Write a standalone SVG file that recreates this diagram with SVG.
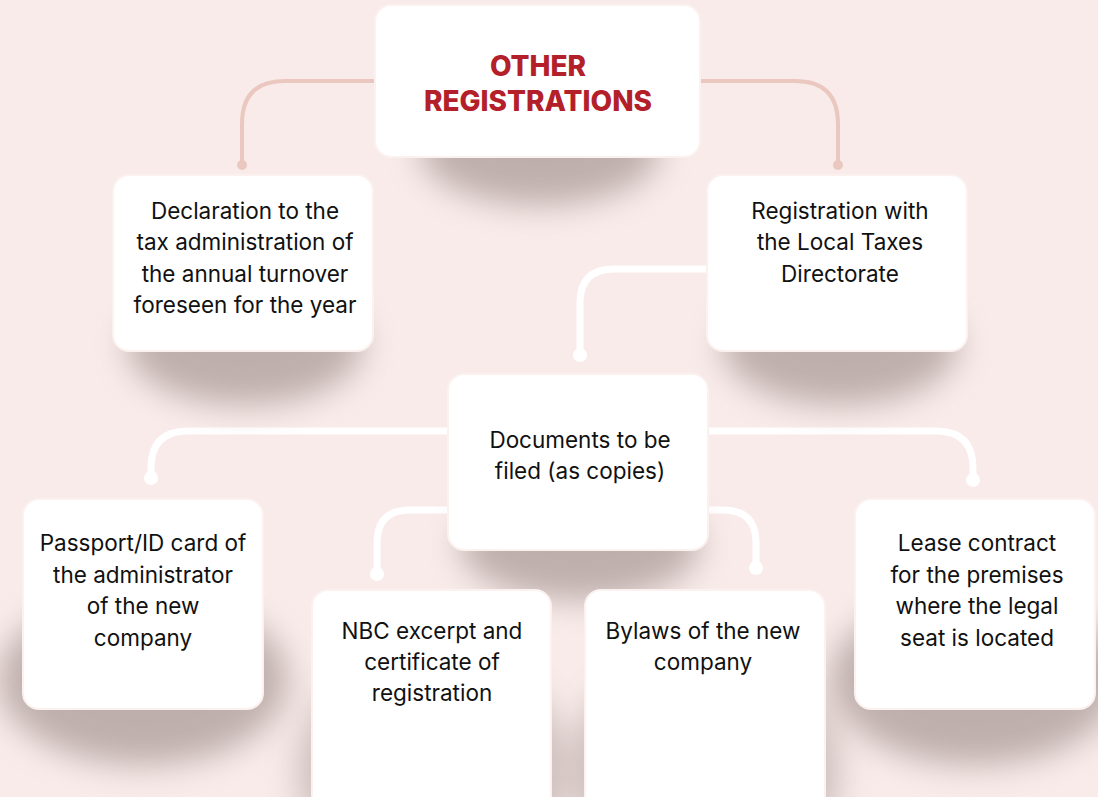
<svg xmlns="http://www.w3.org/2000/svg" width="1098" height="797" viewBox="0 0 1098 797">
<defs>
<filter id="blur" x="-50%" y="-50%" width="200%" height="200%"><feGaussianBlur stdDeviation="16"/></filter>
<style>
.box{fill:#ffffff;stroke:#fbf1ef;stroke-width:2}
.sh{fill:#8f7f7c;opacity:0.55;filter:url(#blur)}
.sh2{fill:#8f7f7c;opacity:0.4;filter:url(#blur)}
.t{font-family:Inter,"Liberation Sans",sans-serif;font-size:22.5px;fill:#111111;text-anchor:middle}
.title{font-family:Inter,"Liberation Sans",sans-serif;font-size:28px;font-weight:800;fill:#b3202a;text-anchor:middle}
.cp{fill:none;stroke:#ebc8bf;stroke-width:4;stroke-linecap:round}
.cw{fill:none;stroke:#ffffff;stroke-width:7;stroke-linecap:round}
.dp{fill:#ebc8bf}
.dw{fill:#ffffff}
</style>
</defs>
<rect width="1098" height="797" fill="#f8ebe9"/>
<g id="connectors">
<path class="cp" d="M380 81 H285 Q242 81 242 124 V164"/>
<circle class="dp" cx="242" cy="165" r="5"/>
<path class="cp" d="M695 81 H795 Q838 81 838 124 V164"/>
<circle class="dp" cx="838" cy="165" r="5"/>
<path class="cw" d="M710 269 H614 Q580 269 580 303 V352"/>
<circle class="dw" cx="580" cy="355" r="7"/>
<path class="cw" d="M450 431 H188 Q151 431 151 468 V476"/>
<circle class="dw" cx="151" cy="478" r="7"/>
<path class="cw" d="M706 431 H936 Q973 431 973 468 V478"/>
<circle class="dw" cx="973" cy="480" r="7"/>
<path class="cw" d="M450 510 H410 Q377 510 377 543 V572"/>
<circle class="dw" cx="377" cy="574" r="7"/>
<path class="cw" d="M706 510 H723 Q756 510 756 543 V566"/>
<circle class="dw" cx="756" cy="568" r="7"/>
</g>
<g id="shadows">
<ellipse class="sh" cx="540" cy="150" rx="120" ry="55"/>
<ellipse class="sh" cx="245" cy="345" rx="118" ry="60"/>
<ellipse class="sh" cx="840" cy="345" rx="118" ry="60"/>
<ellipse class="sh" cx="580" cy="545" rx="120" ry="55"/>
<ellipse class="sh" cx="143" cy="680" rx="145" ry="85"/>
<ellipse class="sh" cx="975" cy="680" rx="145" ry="85"/>
<ellipse class="sh2" cx="432" cy="770" rx="135" ry="120"/>
<ellipse class="sh2" cx="705" cy="770" rx="135" ry="120"/>
</g>
<g id="n-title">
<rect class="box" x="375" y="5" width="325" height="152" rx="16"/>
<text class="title" x="538" y="76">OTHER</text>
<text class="title" x="538" y="111">REGISTRATIONS</text>
</g>
<g id="n-declaration">
<rect class="box" x="113" y="175" width="260" height="176" rx="16"/>
<text class="t" x="245" y="219">Declaration to the</text>
<text class="t" x="245" y="250">tax administration of</text>
<text class="t" x="245" y="282">the annual turnover</text>
<text class="t" x="245" y="313">foreseen for the year</text>
</g>
<g id="n-localtaxes">
<rect class="box" x="707" y="175" width="260" height="176" rx="16"/>
<text class="t" x="840" y="219">Registration with</text>
<text class="t" x="840" y="250">the Local Taxes</text>
<text class="t" x="840" y="282">Directorate</text>
</g>
<g id="n-documents">
<rect class="box" x="448" y="374" width="260" height="176" rx="16"/>
<text class="t" x="580" y="448">Documents to be</text>
<text class="t" x="580" y="479">filed (as copies)</text>
</g>
<g id="n-passport">
<rect class="box" x="23" y="499" width="240" height="210" rx="16"/>
<text class="t" x="143" y="551">Passport/ID card of</text>
<text class="t" x="143" y="583">the administrator</text>
<text class="t" x="143" y="614">of the new</text>
<text class="t" x="143" y="646">company</text>
</g>
<g id="n-nbc">
<rect class="box" x="312" y="590" width="239" height="230" rx="16"/>
<text class="t" x="432" y="639">NBC excerpt and</text>
<text class="t" x="432" y="670">certificate of</text>
<text class="t" x="432" y="701">registration</text>
</g>
<g id="n-bylaws">
<rect class="box" x="585" y="590" width="240" height="230" rx="16"/>
<text class="t" x="703" y="639">Bylaws of the new</text>
<text class="t" x="703" y="670">company</text>
</g>
<g id="n-lease">
<rect class="box" x="855" y="499" width="240" height="210" rx="16"/>
<text class="t" x="977" y="551">Lease contract</text>
<text class="t" x="977" y="583">for the premises</text>
<text class="t" x="977" y="614">where the legal</text>
<text class="t" x="977" y="646">seat is located</text>
</g>
</svg>
